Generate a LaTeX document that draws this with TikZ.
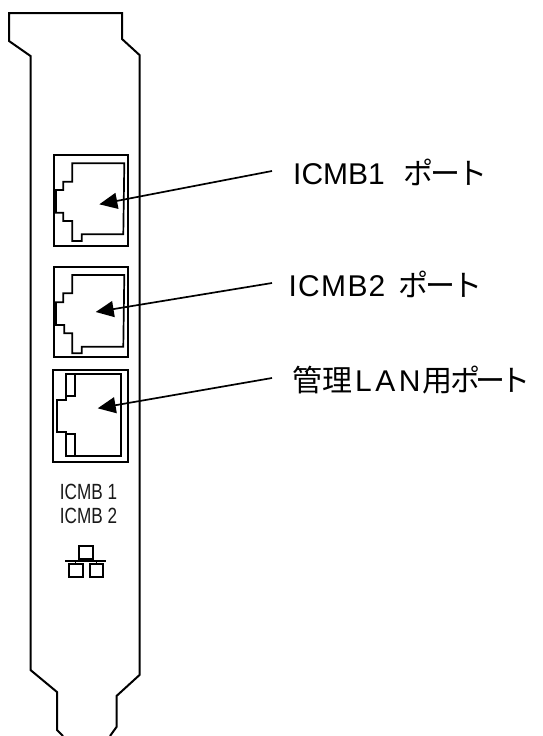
\documentclass[tikz,border=0pt]{standalone}
\usepackage{fontspec}
\setmainfont{Liberation Sans}
\newfontfamily\cjk{Noto Sans CJK JP}
\newfontfamily\narrowf[FakeStretch=0.78]{Liberation Sans}
\usetikzlibrary{arrows.meta}
\tikzset{
  outline/.style={line width=2pt,line join=miter,black},
  thinl/.style={line width=1.7pt,black},
  arr/.style={line width=1.7pt,-{Triangle[length=18pt,width=16pt]}},
  lab/.style={anchor=west,inner sep=0pt,font=\fontsize{30}{30}\selectfont},
  small/.style={inner sep=0pt,font=\narrowf\fontsize{22}{22}\selectfont,text=black!90}
}
\begin{document}
\begin{tikzpicture}[x=1pt,y=-1pt]
\useasboundingbox (0,0) rectangle (542,736);
% bracket
\draw[outline] (63,736) -- (57,730) -- (57,692) -- (30.5,670) -- (30.5,56) -- (9,41) -- (9,13) -- (122,13) -- (122,39) -- (139.5,55) -- (139.5,675) -- (116.5,696) -- (116.5,727) -- (110,736);
% port 1
\draw[outline] (53.5,155) rectangle (128,245.5);
\draw[thinl] (72.3,163.3) -- (124.3,163.3) -- (123.3,234.3) -- (81.7,234.3) -- (81.7,241) -- (72.3,241) -- (72.3,221) -- (63.3,221) -- (63.3,212.7) -- (56,212.7) -- (56,190) -- (63.3,190) -- (63.3,181.7) -- (72.3,181.7) -- cycle;
% port 2
\draw[outline] (54,266.7) rectangle (128.3,357);
\draw[thinl] (72.3,275) -- (124.3,275) -- (123.3,346.7) -- (81.7,346.7) -- (81.7,353.3) -- (72.3,353.3) -- (72.3,333.3) -- (64.3,333.3) -- (64.3,325) -- (56,325) -- (56,302.3) -- (63.3,302.3) -- (63.3,293.3) -- (72.3,293.3) -- cycle;
% port 3
\draw[outline] (53,370) rectangle (128.3,461.7);
\draw[thinl] (65.7,374.3) -- (120.7,374.3) -- (120.7,456.3) -- (65.7,456.3) -- (65.7,432) -- (57.3,432) -- (57.3,400) -- (65.7,400) -- cycle;
\draw[thinl] (75,374.3) -- (75,396) -- (65.7,396);
\draw[thinl] (65.7,434) -- (75,434) -- (75,456.3);
% labels
\node[lab] (l1) at (293,172) {ICMB1\kern10pt\ {\cjk ポ\kern-3ptー\kern-3ptト}};
\node[lab] (l2) at (288.5,284) {I\kern1pt C\kern1.5pt M\kern1.5pt B\kern1pt 2\kern5pt\ {\cjk ポ\kern-3ptー\kern-3ptト}};
\node[lab] (l3) at (292,380) {{\cjk 管理}\kern3pt L\kern3.5pt A\kern3.5pt N\kern2pt{\cjk 用\kern-2ptポ\kern-5ptー\kern-5ptト}};
% arrows
\coordinate (t1) at (272,171);
\coordinate (t2) at (272,283);
\coordinate (t3) at (272,378);
\coordinate (p1) at (99.3,204.3);
\coordinate (p2) at (95.7,312);
\coordinate (p3) at (97.7,408.3);
\draw[arr] (t1) -- (p1);
\draw[arr] (t2) -- (p2);
\draw[arr] (t3) -- (p3);
% small text
\node[small] (s1) at (88.5,491.5) {ICMB 1};
\node[small] (s2) at (88.5,515.5) {ICMB 2};
% network icon
\draw[outline] (79,546) rectangle (92.7,559.3);
\draw[outline] (69,564.3) rectangle (83,577.3);
\draw[outline] (89.7,564.3) rectangle (103.3,577.3);
\draw[line width=1.2pt] (65.3,561) -- (105.7,561);
\draw[line width=1.2pt] (75.7,561) -- (75.7,564.3);
\draw[line width=1.2pt] (86,559.3) -- (86,561);
\draw[line width=1.2pt] (96.3,561) -- (96.3,564.3);
\end{tikzpicture}
\end{document}
